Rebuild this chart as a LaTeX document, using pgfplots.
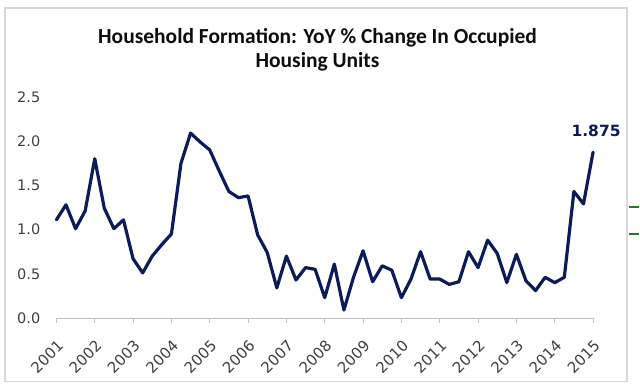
\documentclass[border=0pt]{standalone}
\usepackage{fontspec}
\usepackage{pgfplots}
\pgfplotsset{compat=1.18}
\setmainfont{DejaVu Sans}
\newfontfamily\titlefont{Carlito}
\definecolor{navy}{RGB}{14,27,90}
\definecolor{framegray}{RGB}{217,217,217}
\definecolor{axisgray}{RGB}{191,191,191}
\definecolor{ticktext}{RGB}{64,64,64}
\definecolor{edgegreen}{RGB}{46,110,50}
\pgfplotstableread{
idx val
0 1.11
1 1.28
2 1.01
3 1.21
4 1.80
5 1.24
6 1.01
7 1.11
8 0.67
9 0.51
10 0.70
11 0.83
12 0.95
13 1.75
14 2.09
15 1.99
16 1.90
17 1.66
18 1.43
19 1.36
20 1.38
21 0.94
22 0.74
23 0.34
24 0.70
25 0.43
26 0.57
27 0.55
28 0.23
29 0.61
30 0.09
31 0.46
32 0.76
33 0.41
34 0.59
35 0.54
36 0.23
37 0.44
38 0.75
39 0.44
40 0.44
41 0.38
42 0.41
43 0.75
44 0.57
45 0.88
46 0.73
47 0.40
48 0.72
49 0.42
50 0.31
51 0.46
52 0.40
53 0.46
54 1.43
55 1.29
56 1.875
}\hfdata
\begin{document}
\begin{tikzpicture}[x=1pt,y=-1pt]
\fill[white] (0,0) rectangle (640,392);
\draw[framegray, line width=1.8pt] (5.3,8.3) rectangle (628.3,382);
\draw[edgegreen, line width=2pt] (629.5,207.7) -- (640,207.7);
\draw[edgegreen, line width=2pt] (629.5,234) -- (640,234);
\node[font=\titlefont\bfseries\fontsize{21.5}{24}\selectfont, align=center, text=black!95] at (318,49.5) {Household Formation: YoY \% Change In Occupied\\Housing Units};
\begin{axis}[
  at={(56.5pt,-318.5pt)}, anchor=south west,
  width=537.5pt, height=221.5pt, scale only axis,
  xmin=0, xmax=56, ymin=0, ymax=2.5,
  clip=false,
  axis x line*=bottom, axis y line*=left,
  y axis line style={draw=none},
  x axis line style={axisgray, line width=1pt},
  xtick={0,4,...,56},
  xticklabels={2001,2002,2003,2004,2005,2006,2007,2008,2009,2010,2011,2012,2013,2014,2015},
  ytick={0,0.5,...,2.5},
  major x tick style={axisgray, line width=1pt},
  major y tick style={draw=none},
  tick align=outside,
  major tick length=5pt,
  /pgf/number format/assume math mode=true,
  yticklabel style={/pgf/number format/fixed, /pgf/number format/fixed zerofill, /pgf/number format/precision=1,
    font=\fontsize{14.5}{16}\selectfont, text=ticktext, anchor=east, inner sep=0pt, xshift=-11pt},
  xticklabel style={font=\fontsize{15}{16}\selectfont, text=ticktext, inner sep=0pt, xshift=0pt, yshift=-16pt, rotate=45, anchor=north east},
]
\addplot[navy, line width=3.2pt, line join=round, line cap=round] table[x=idx, y=val] {\hfdata};
\node[font=\bfseries\fontsize{15.5}{17}\selectfont, text=navy] at (axis cs:56,1.875) [yshift=21pt, xshift=3pt] {1.875};
\end{axis}
\end{tikzpicture}
\end{document}
